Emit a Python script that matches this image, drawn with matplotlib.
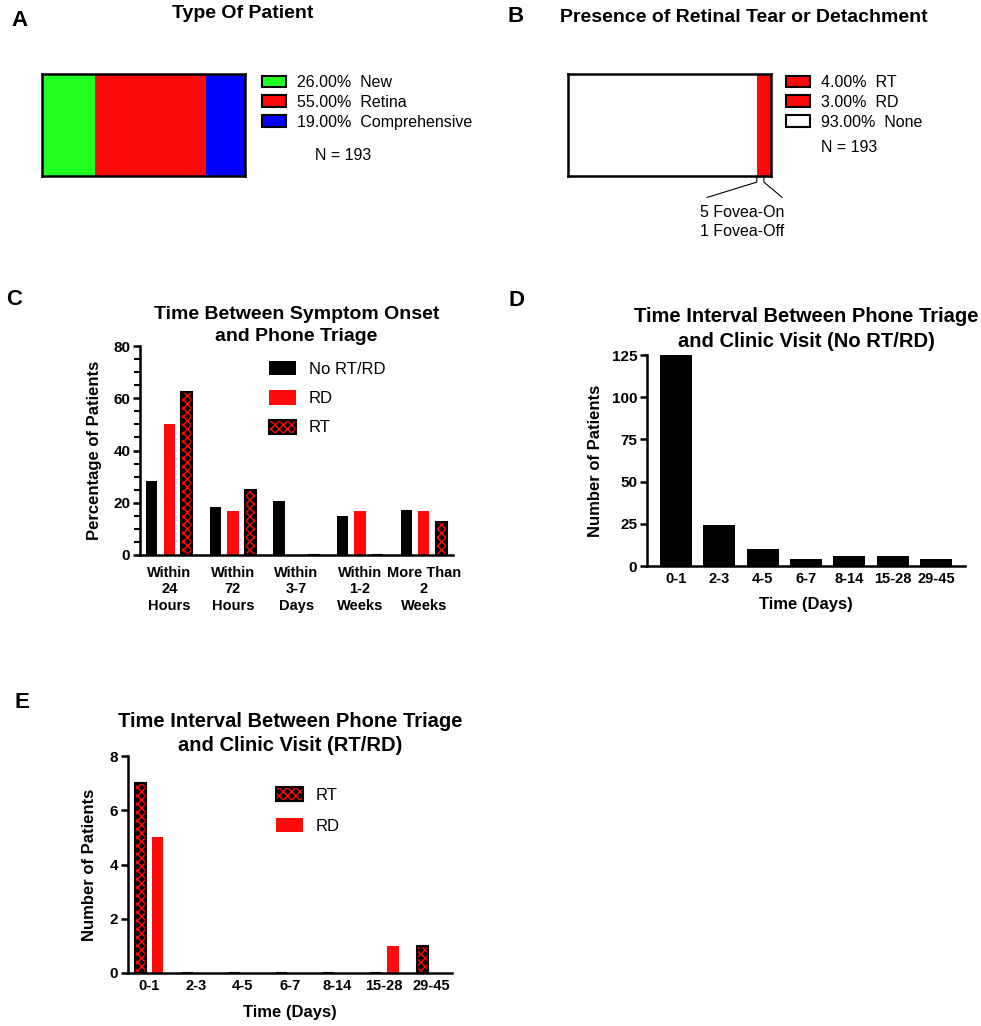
import numpy as np
import matplotlib.pyplot as plt
from matplotlib.patches import Patch
from matplotlib.ticker import MultipleLocator

plt.rcParams['font.family'] = ['Liberation Sans', 'DejaVu Sans']
plt.rcParams['hatch.linewidth'] = 1.0

# A: type of patient
patient_types = ["New", "Retina", "Comprehensive"]
patient_pct = [26.0, 55.0, 19.0]
patient_colors = ["#22ff22", "#ff0a0a", "#0000ff"]

# B: retinal tear / detachment
tear_types = ["RT", "RD", "None"]
tear_pct = [4.0, 3.0, 93.0]
tear_colors = ["#ff0a0a", "#ff0a0a", "white"]
n_total = 193
fovea_note = "5 Fovea-On\n1 Fovea-Off"

# C: symptom onset -> phone triage (% of patients)
onset_groups = ["Within\n24\nHours", "Within\n72\nHours", "Within\n3-7\nDays",
                "Within\n1-2\nWeeks", "More Than\n2\nWeeks"]
onset_none = [28.5, 18.4, 20.7, 15.1, 17.3]
onset_rd = [50.0, 16.7, 0.0, 16.7, 16.7]
onset_rt = [62.5, 25.0, 0.0, 0.0, 12.5]

# D/E: phone triage -> clinic visit (number of patients)
day_bins = ["0-1", "2-3", "4-5", "6-7", "8-14", "15-28", "29-45"]
visit_none = [125, 24, 10, 4, 6, 6, 4]
visit_rt = [7, 0, 0, 0, 0, 0, 1]
visit_rd = [5, 0, 0, 0, 0, 1, 0]

RED = "#ff0a0a"
W, H = 981, 1026
fig = plt.figure(figsize=(W / 100, H / 100), dpi=100)


def axes_px(l, t, r, b):
    return fig.add_axes([l / W, 1 - b / H, (r - l) / W, (b - t) / H])


def fig_xy(x, y):
    return x / W, 1 - y / H


def rt_bars(ax, x, vals, w):
    # black bar with red check pattern, then black outline on top
    fill = ax.bar(x, vals, w, facecolor="black", edgecolor=RED, hatch="xxxx", linewidth=0)
    edge = ax.bar(x, vals, w, facecolor="none", edgecolor="black", linewidth=1.5)
    return fill, edge


def style_axes(ax, xpad=4):
    for s in ["top", "right"]:
        ax.spines[s].set_visible(False)
    for s in ["left", "bottom"]:
        ax.spines[s].set_linewidth(1.8)
    ax.tick_params(axis="y", length=5, width=1.8, labelsize=11, pad=2)
    ax.tick_params(axis="y", which="minor", length=4, width=1.5)
    ax.tick_params(axis="x", length=0, labelsize=10.5, pad=xpad)
    for lbl in ax.get_xticklabels() + ax.get_yticklabels():
        lbl.set_fontweight("bold")


# ---- A ----
axA = axes_px(42, 74, 245, 176)
left = 0
for pct, col in zip(patient_pct, patient_colors):
    axA.barh(0, pct, left=left, height=1, color=col, linewidth=0)
    left += pct
axA.set_xlim(0, 100)
axA.set_ylim(-0.5, 0.5)
axA.set_xticks([])
axA.set_yticks([])
for s in axA.spines.values():
    s.set_linewidth(1.8)
handles = [Patch(facecolor=c, edgecolor="black", linewidth=1.5) for c in patient_colors]
labels = [f"{p:.2f}%  {t}" for p, t in zip(patient_pct, patient_types)]
axA.legend(handles, labels, loc="upper left", bbox_to_anchor=fig_xy(262, 75),
           bbox_transform=fig.transFigure, frameon=False, fontsize=11.5,
           handlelength=1.5, handleheight=0.75, labelspacing=0.3,
           handletextpad=0.7, borderpad=0, borderaxespad=0)
fig.text(*fig_xy(315, 156), f"N = {n_total}", fontsize=11.5, va="center")
fig.text(*fig_xy(243, 14), "Type Of Patient", fontsize=14, fontweight="bold",
         ha="center", va="center")

# ---- B ----
axB = axes_px(568, 74, 771, 176)
left = 0
for pct, col in zip(tear_pct[::-1], tear_colors[::-1]):
    axB.barh(0, pct, left=left, height=1, color=col, linewidth=0)
    left += pct
axB.set_xlim(0, 100)
axB.set_ylim(-0.5, 0.5)
axB.set_xticks([])
axB.set_yticks([])
for s in axB.spines.values():
    s.set_linewidth(1.8)
handles = [Patch(facecolor=c, edgecolor="black", linewidth=1.5) for c in tear_colors]
labels = [f"{p:.2f}%  {t}" for p, t in zip(tear_pct, tear_types)]
axB.legend(handles, labels, loc="upper left", bbox_to_anchor=fig_xy(786, 75),
           bbox_transform=fig.transFigure, frameon=False, fontsize=11.5,
           handlelength=1.5, handleheight=0.75, labelspacing=0.3,
           handletextpad=0.7, borderpad=0, borderaxespad=0)
fig.text(*fig_xy(821, 148), f"N = {n_total}", fontsize=11.5, va="center")
fig.text(*fig_xy(744, 17), "Presence of Retinal Tear or Detachment", fontsize=14,
         fontweight="bold", ha="center", va="center")
axB.plot([93, 93, 68.5], [-0.5, -0.56, -0.71], color="black", lw=0.8, clip_on=False)
axB.plot([96.5, 96.5, 105.5], [-0.5, -0.56, -0.71], color="black", lw=0.8, clip_on=False)
axB.text(86, -0.78, fovea_note, ha="center", va="top", fontsize=11.5,
         linespacing=1.4, multialignment="center")

# ---- C ----
axC = axes_px(140, 346, 453, 555)
xc = np.arange(len(onset_groups))
bw, off = 0.18, 0.275
b_none = axC.bar(xc - off, onset_none, bw, color="black")
b_rd = axC.bar(xc, onset_rd, bw, color=RED)
rt_fill, rt_edge = rt_bars(axC, xc + off, onset_rt, bw)
axC.set_xlim(-0.46, 4.46)
axC.set_ylim(0, 80)
axC.set_yticks([0, 20, 40, 60, 80])
axC.yaxis.set_minor_locator(MultipleLocator(5))
axC.set_xticks(xc, onset_groups)
style_axes(axC, xpad=8)
axC.set_ylabel("Percentage of Patients", fontsize=12, fontweight="bold")
axC.yaxis.set_label_coords(-0.121, 0.5)
axC.set_title("Time Between Symptom Onset\nand Phone Triage", fontsize=14,
              fontweight="bold", pad=3.5, linespacing=1.4)
axC.legend([b_none, b_rd, (rt_fill, rt_edge)], ["No RT/RD", "RD", "RT"],
           loc="upper left", bbox_to_anchor=fig_xy(269, 361),
           bbox_transform=fig.transFigure, frameon=False, fontsize=12,
           handlelength=1.6, handleheight=0.95, labelspacing=0.8,
           handletextpad=0.8, borderpad=0, borderaxespad=0)

# ---- D ----
axD = axes_px(647, 355, 965, 566)
xd = np.arange(len(day_bins))
axD.bar(xd, visit_none, 0.74, color="black")
axD.set_xlim(-0.67, 6.67)
axD.set_ylim(0, 125)
axD.set_yticks([0, 25, 50, 75, 100, 125])
axD.set_xticks(xd, day_bins)
style_axes(axD)
axD.set_ylabel("Number of Patients", fontsize=12, fontweight="bold")
axD.yaxis.set_label_coords(-0.138, 0.5)
axD.set_xlabel("Time (Days)", fontsize=12, fontweight="bold")
axD.xaxis.set_label_coords(0.5, -0.148)
axD.set_title("Time Interval Between Phone Triage\nand Clinic Visit (No RT/RD)",
              fontsize=14.5, fontweight="bold", pad=6, linespacing=1.4)

# ---- E ----
axE = axes_px(128, 756, 452, 973)
e_fill, e_edge = rt_bars(axE, xd - 0.18, visit_rt, 0.24)
e_rd = axE.bar(xd + 0.19, visit_rd, 0.24, color=RED)
axE.set_xlim(-0.44, 6.44)
axE.set_ylim(0, 8)
axE.set_yticks([0, 2, 4, 6, 8])
axE.set_xticks(xd, day_bins)
style_axes(axE)
axE.set_ylabel("Number of Patients", fontsize=12, fontweight="bold")
axE.yaxis.set_label_coords(-0.096, 0.5)
axE.set_xlabel("Time (Days)", fontsize=12, fontweight="bold")
axE.xaxis.set_label_coords(0.5, -0.147)
axE.set_title("Time Interval Between Phone Triage\nand Clinic Visit (RT/RD)",
              fontsize=14.5, fontweight="bold", pad=3.5, linespacing=1.35)
axE.legend([(e_fill, e_edge), e_rd], ["RT", "RD"],
           loc="upper left", bbox_to_anchor=fig_xy(276, 787),
           bbox_transform=fig.transFigure, frameon=False, fontsize=12,
           handlelength=1.6, handleheight=0.95, labelspacing=0.9,
           handletextpad=0.8, borderpad=0, borderaxespad=0)

# panel letters
for letter, (px, py) in zip("ABCDE", [(20, 21), (516, 16), (14, 299), (516, 300), (22, 702)]):
    fig.text(*fig_xy(px, py), letter, fontsize=16, fontweight="bold",
             ha="center", va="center")

fig.savefig("out.png", dpi=100)
